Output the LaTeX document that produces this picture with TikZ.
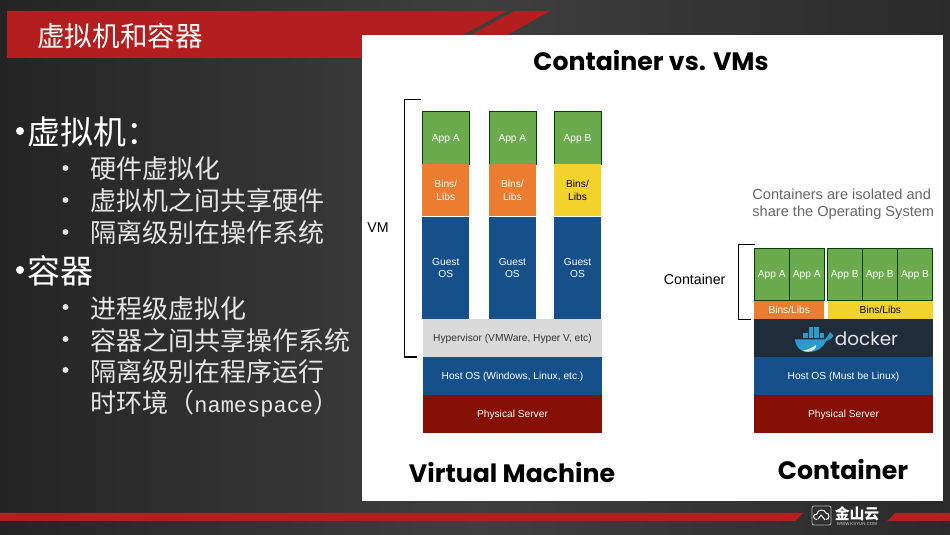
\documentclass[tikz,border=0pt]{standalone}
\usepackage{fontspec}
\setmainfont{Liberation Sans}
\newfontfamily\cjk{Noto Sans CJK SC}
\newfontfamily\headfont{Poppins}
\newfontfamily\codefont{Liberation Mono}
\definecolor{bannerred}{HTML}{B51E1E}
\definecolor{appgreen}{HTML}{6CAA4E}
\definecolor{binorange}{HTML}{EB7C30}
\definecolor{binyellow}{HTML}{F4D22C}
\definecolor{osblue}{HTML}{16508A}
\definecolor{hypergrey}{HTML}{DADADA}
\definecolor{serverred}{HTML}{861004}
\definecolor{dockerdark}{HTML}{1F2D3A}
\definecolor{whaleblue}{HTML}{2A9BCB}
\definecolor{bgleft}{HTML}{242424}
\definecolor{bgmid}{HTML}{3F3F3F}
\definecolor{bgright}{HTML}{2A2A2A}
\tikzset{
    layer/.style={inner sep=0pt,outer sep=0pt,align=center,text=white,text depth=0pt,
        font=\fontsize{5.1}{6.3}\selectfont},
    vmapp/.style={layer,draw=black!75!green,line width=0.3pt,fill=appgreen,
        minimum width=23.4pt,minimum height=26.2pt},
    vmbin/.style={layer,fill=binorange,minimum width=23.4pt,minimum height=26pt},
    vmguest/.style={layer,fill=osblue,minimum width=23.4pt,minimum height=51.4pt},
    wide/.style={layer,minimum width=89.5pt,minimum height=18.9pt},
    ctapp/.style={layer,draw=black!75!green,line width=0.3pt,fill=appgreen,
        minimum width=17.5pt,minimum height=26.3pt},
    bracket/.style={line width=0.6pt,black},
    bighead/.style={inner sep=0pt,font=\headfont\bfseries\fontsize{12.6}{15}\selectfont},
    sidelabel/.style={inner sep=0pt,font=\fontsize{7.1}{9}\selectfont},
    mainitem/.style={anchor=west,inner sep=0pt,text=white,font=\cjk\fontsize{16.5}{18}\selectfont},
    subitem/.style={anchor=west,inner sep=0pt,text=white!90!black,font=\cjk\fontsize{13}{15}\selectfont},
    bigdot/.style={circle,fill=white,inner sep=0pt,minimum size=4pt},
    smalldot/.style={circle,fill=white!90!black,inner sep=0pt,minimum size=3pt}
}
\begin{document}
\begin{tikzpicture}[x=0.5pt,y=-0.5pt]
    \useasboundingbox (0,0) rectangle (950,535);
    %background
    \fill[left color=bgleft,right color=bgright,middle color=bgmid] (0,0) rectangle (950,535);
    %title banner
    \fill[bannerred] (7,11) -- (507,11) -- (420,58) -- (7,58) -- cycle;
    \fill[bannerred] (514,11) -- (550,11) -- (507,35) -- (471,35) -- cycle;
    \node[anchor=west,inner sep=0pt,text=white,font=\cjk\fontsize{13.8}{15}\selectfont] (title) at (37,36) {虚拟机和容器};
    %footer
    \fill[bannerred] (0,513) -- (803,513) -- (795,521) -- (0,521) -- cycle;
    \fill[bannerred] (895,513) -- (950,513) -- (950,521) -- (887,521) -- cycle;
    \draw[white!70!black,line width=0.4pt,rounded corners=1pt] (812,506) rectangle (831,525);
    \draw[white,line width=0.5pt] (817,519.5) .. controls (812,519.5) and (813,513.5) .. (817,514)
        .. controls (817,509) and (825,509) .. (826,513) .. controls (830,513) and (830,519.5) .. (826,519.5);
    \draw[white,line width=0.5pt] (818,519) -- (821,515) -- (825,520);
    \node[inner sep=0pt,text=white,font=\cjk\bfseries\fontsize{7.4}{8}\selectfont] (logo) at (857,513.5) {金山云};
    \node[inner sep=0pt,text=white!80!black,font=\fontsize{2.2}{3}\selectfont] (logourl) at (857,524) {WWW.KSYUN.COM};
    %left text
    \node[bigdot] (d1) at (20,131) {};
    \node[mainitem] (vm) at (27,132) {虚拟机：};
    \node[smalldot] (d2) at (65.5,168) {};
    \node[subitem] (vm1) at (90,169) {硬件虚拟化};
    \node[smalldot] (d3) at (65.5,200) {};
    \node[subitem] (vm2) at (90,201) {虚拟机之间共享硬件};
    \node[smalldot] (d4) at (65.5,232) {};
    \node[subitem] (vm3) at (90,233) {隔离级别在操作系统};
    \node[bigdot] (d5) at (20,270) {};
    \node[mainitem] (ct) at (27,271) {容器};
    \node[smalldot] (d6) at (65.5,307) {};
    \node[subitem] (ct1) at (90,309) {进程级虚拟化};
    \node[smalldot] (d7) at (65.5,339) {};
    \node[subitem] (ct2) at (90,341) {容器之间共享操作系统};
    \node[smalldot] (d8) at (65.5,370) {};
    \node[subitem] (ct3) at (90,372) {隔离级别在程序运行};
    \node[subitem] (ct4) at (90,404) {时环境（{\codefont\fontsize{11}{12}\selectfont namespace}）};
    %white panel
    \fill[white] (362,35) rectangle (943,501);
    \node[bighead] (head) at (651,61) {Container vs. VMs};
    \node[bighead] (vmhead) at (512,473) {Virtual Machine};
    \node[bighead] (cthead) at (843,470) {Container};
    %virtual machine stack
    \node[vmapp] (appa) at (445.8,138) {App A};
    \node[vmapp] (appb) at (512.4,138) {App A};
    \node[vmapp] (appc) at (577.5,138) {App B};
    \node[vmbin] (bina) at (445.8,190.5) {Bins/\\Libs};
    \node[vmbin] (binb) at (512.4,190.5) {Bins/\\Libs};
    \node[vmbin,fill=binyellow,text=black] (binc) at (577.5,190.5) {Bins/\\Libs};
    \node[vmguest] (gosa) at (445.8,268) {Guest\\OS};
    \node[vmguest] (gosb) at (512.4,268) {Guest\\OS};
    \node[vmguest] (gosc) at (577.5,268) {Guest\\OS};
    \node[wide,fill=hypergrey,text=black!80] (hyper) at (512.5,338.2) {Hypervisor (VMWare, Hyper V, etc)};
    \node[wide,fill=osblue] (hostvm) at (512.5,376) {Host OS (Windows, Linux, etc.)};
    \node[wide,fill=serverred] (servervm) at (512.5,413.8) {Physical Server};
    %container stack
    \node[ctapp] (ca1) at (771.8,274.4) {App A};
    \node[ctapp] (ca2) at (806.8,274.4) {App A};
    \node[ctapp] (cb1) at (844.8,274.4) {App B};
    \node[ctapp] (cb2) at (879.8,274.4) {App B};
    \node[ctapp] (cb3) at (915,274.4) {App B};
    \node[layer,fill=binorange,minimum width=34.9pt,minimum height=9.5pt] (cbina) at (789.2,310.2) {Bins/Libs};
    \node[layer,fill=binyellow,text=black,minimum width=52.4pt,minimum height=9.5pt] (cbinb) at (880.4,310.2) {Bins/Libs};
    \node[wide,fill=dockerdark] (dock) at (843.5,338.4) {};
    \node[wide,fill=osblue] (hostct) at (843.5,376) {Host OS (Must be Linux)};
    \node[wide,fill=serverred] (serverct) at (843.5,413.8) {Physical Server};
    %docker logo
    \foreach \xa in {803,808.5,814,819.5} {
        \fill[whaleblue] (\xa,333.5) rectangle ++(4.7,5);
    }
    \fill[whaleblue] (808.5,327.5) rectangle ++(4.7,5.2);
    \fill[whaleblue] (814,327.5) rectangle ++(4.7,5.2);
    \fill[whaleblue] (795,339.5) -- (825,339.5) .. controls (827,337) and (829,335) .. (830,332)
        .. controls (832,334) and (833,335) .. (833.5,336) .. controls (831,339) and (829,340) .. (826,341)
        .. controls (823,348) and (817,352) .. (808,352) .. controls (800,352) and (796,347) .. (795,339.5) -- cycle;
    \fill[white!80!whaleblue] (803,350.5) .. controls (808,350) and (813,347) .. (816,345)
        .. controls (817,348) and (813,351.5) .. (808,351.7) .. controls (806,351.7) and (804,351) .. (803,350.5) -- cycle;
    \node[inner sep=0pt,text=white!90!black,font=\headfont\fontsize{9.2}{12}\selectfont] (dockname) at (866.5,339) {docker};
    %brackets
    \draw[bracket] (421,99.5) -- (404.7,99.5) -- (404.7,357) -- (417.3,357);
    \draw[bracket] (754.7,244.7) -- (738.7,244.7) -- (738.7,319.3) -- (750.7,319.3);
    %labels
    \node[sidelabel] (vmlabel) at (378,228) {VM};
    \node[sidelabel] (ctlabel) at (694.7,279.7) {Container};
    \node[anchor=west,inner sep=0pt,align=left,text=black!60,font=\fontsize{7.3}{8.5}\selectfont] (note) at (752,204)
        {Containers are isolated and\\share the Operating System};
\end{tikzpicture}
\end{document}
